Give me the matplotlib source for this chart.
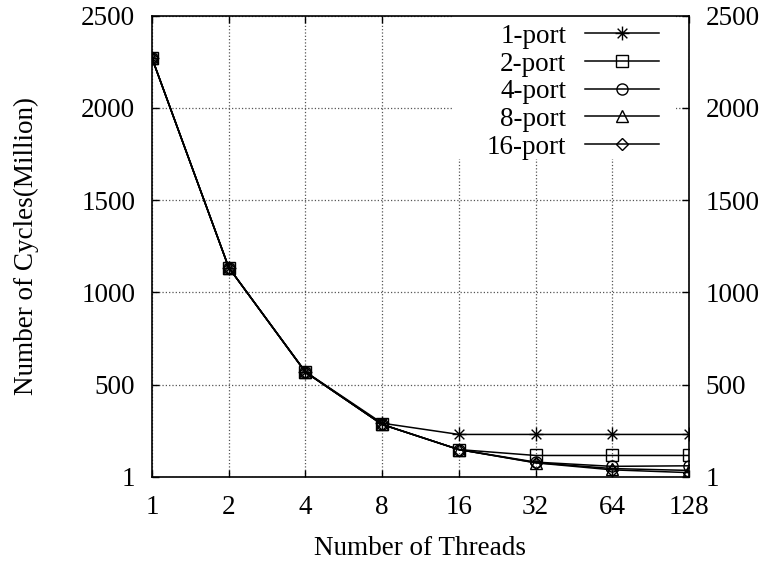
import matplotlib
matplotlib.use("Agg")
import matplotlib.pyplot as plt
from matplotlib.path import Path
from matplotlib.patches import Rectangle

plt.rcParams['font.family'] = ['Liberation Serif', 'DejaVu Serif']
plt.rcParams['font.size'] = 19.5

threads = ['1', '2', '4', '8', '16', '32', '64', '128']
port1 = [2270, 1135, 570, 291, 230, 230, 230, 230]
port2 = [2270, 1135, 568, 285, 148, 116, 116, 116]
port4 = [2270, 1135, 568, 284, 148, 80, 57, 60]
port8 = [2270, 1135, 568, 284, 148, 77, 45, 35]
port16 = [2270, 1135, 568, 284, 148, 76, 38, 23]
labels = ['1-port', '2-port', '4-port', '8-port', '16-port']

# gnuplot style star: plus and cross together
star = Path([(-1, 0), (1, 0), (0, -1), (0, 1),
             (-0.7, -0.7), (0.7, 0.7), (-0.7, 0.7), (0.7, -0.7)],
            [Path.MOVETO, Path.LINETO] * 4)
markers = [star, 's', 'o', '^', 'D']
sizes = [10, 8, 8, 8, 6]

fig = plt.figure(figsize=(7.7, 5.61), dpi=100)
ax = fig.add_axes([0.1974, 0.1503, 0.6974, 0.8217])

xs = list(range(len(threads)))
for ys, lab, m, ms in zip([port1, port2, port4, port8, port16], labels, markers, sizes):
    ax.plot(xs, ys, color='black', lw=1.1, marker=m, ms=ms,
            markerfacecolor='none', markeredgecolor='black', mew=1.0, label=lab)

ax.set_xlim(0, 7)
ax.set_ylim(1, 2500)
ax.set_xticks(xs)
ax.set_xticklabels(threads)
ax.set_yticks([1, 500, 1000, 1500, 2000, 2500])
ax.tick_params(direction='in', top=True, right=True, labelright=True,
               length=5, width=1.0)
ax.tick_params(axis='y', pad=12)
ax.tick_params(axis='x', pad=13)
ax.grid(True, linestyle=':', color='#555555', lw=0.9)
for s in ax.spines.values():
    s.set_linewidth(1.2)

# key box blanks the grid like gnuplot does
ax.add_patch(Rectangle((0.56, 0.69), 0.415, 0.31, transform=ax.transAxes,
                       facecolor='white', edgecolor='none', zorder=1.8))

ax.set_xlabel('Number of Threads')
ax.set_ylabel('Number of Cycles(Million)')
ax.xaxis.set_label_coords(0.5, -0.128)
ax.yaxis.set_label_coords(-0.21, 0.5)

leg = ax.legend(loc='upper right', bbox_to_anchor=(0.96, 1.0), markerfirst=False,
                frameon=False, handlelength=2.74, handletextpad=0.7,
                labelspacing=0.1, borderpad=0.2, borderaxespad=0.1)

fig.savefig('out.png', dpi=100)
